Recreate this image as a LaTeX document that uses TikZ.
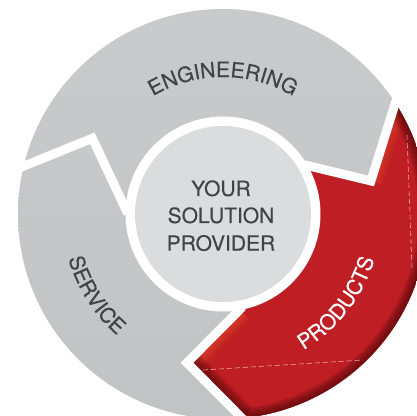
\documentclass[tikz,border=0pt]{standalone}
\usepackage{fontspec}
\setmainfont{TeX Gyre Heros}[FakeBold=0.35]
\usetikzlibrary{calc,decorations.text}
\definecolor{txtgray}{HTML}{434345}
\definecolor{gtop}{HTML}{C9CACC}
\definecolor{gmid}{HTML}{E0E1E3}
\definecolor{gbot}{HTML}{C2C3C5}
\definecolor{diskc}{HTML}{DBDCDE}
\definecolor{redmain}{HTML}{BE1E24}
\definecolor{reddark}{HTML}{5A0A0C}
\definecolor{redlight}{HTML}{E2482E}
\definecolor{seam}{HTML}{E8A2A2}
\newcommand\lblfont{\fontsize{21}{21}\selectfont}
\begin{document}
\begin{tikzpicture}[x=1pt,y=1pt,
  sepline/.style={white,line width=9pt,line join=miter,miter limit=20},
  ctext/.style={font=\lblfont,text=txtgray,inner sep=0pt,anchor=base},
  seamline/.style={seam,line width=0.6pt,dash pattern=on 5pt off 3pt},
]
\useasboundingbox (0,0) rectangle (417,415);
\fill[white] (0,0) rectangle (417,415);
\coordinate (C) at (223,201);
\coordinate (EPo) at ($(C)+(32.8:205)$);
\coordinate (EPt) at ($(C)+(12.6:151.6)$);
\coordinate (EPi) at ($(C)+(30:97)$);
\coordinate (PSo) at ($(C)+(-84.7:205)$);
\coordinate (PSt) at ($(C)+(-103.6:153)$);
\coordinate (PSi) at ($(C)+(-80:97)$);
\coordinate (SEo) at ($(C)+(166.5:205)$);
\coordinate (SEt) at ($(C)+(149.9:151)$);
\coordinate (SEi) at ($(C)+(177.7:97)$);
\begin{scope}
\clip (0,0) rectangle (417,415);
\shade[top color=gtop, middle color=gmid, bottom color=gbot] (C) circle[radius=205];
\begin{scope}
\clip (EPo) arc[start angle=32.8,end angle=-84.7,radius=205] -- (PSt) -- (PSi)
  arc[start angle=-80,end angle=30,radius=97] -- (EPt) -- cycle;
\fill[redmain] (C) circle[radius=210];
\foreach \w in {14,16,...,28} \draw[redlight,opacity=0.10,line width=\w pt] (PSt) -- (PSi);
\foreach \w in {14,16,...,26} \draw[redlight,opacity=0.08,line width=\w pt] (EPo) -- (EPt);
\foreach \w in {2,4,...,20} \draw[reddark,opacity=0.12,line width=\w pt] (C) circle[radius=205];
\foreach \w in {10,12,...,30} \draw[reddark,opacity=0.10,line width=\w pt] (PSt) -- (PSo);
\draw[seamline] (407,280) -- (412,147);
\draw[seamline] (203,45) -- (363,55);
\end{scope}
\draw[sepline] ($(EPt)!1.2!(EPo)$) -- (EPt) -- ($(EPt)!1.05!(EPi)$);
\draw[sepline] ($(PSt)!1.2!(PSo)$) -- (PSt) -- ($(PSt)!1.05!(PSi)$);
\draw[sepline] ($(SEt)!1.2!(SEo)$) -- (SEt) -- ($(SEt)!1.05!(SEi)$);
\fill[white] (C) circle[radius=97.5];
\fill[diskc] (C) circle[radius=88];
\end{scope}
\node[ctext] (l1) at (221,219) {YOUR};
\node[ctext] (l2) at (221,192) {SOLUTION};
\node[ctext] (l3) at (221,164.3) {PROVIDER};
\path[decorate,decoration={text along path,text={|\lblfont|ENGINEERING},text align=center,text color=txtgray}]
  ($(C)+(130:137)$) arc[start angle=130,end angle=50,radius=137];
\path[decorate,decoration={text along path,text={|\lblfont|SERVICE},text align=center,text color=txtgray}]
  ($(C)+(185:161)$) arc[start angle=185,end angle=240,radius=161];
\path[decorate,decoration={text along path,text={|\lblfont|PRODUCTS},text align=center,text color=white}]
  ($(C)+(-65:158)$) arc[start angle=-65,end angle=-11,radius=158];
\end{tikzpicture}
\end{document}
